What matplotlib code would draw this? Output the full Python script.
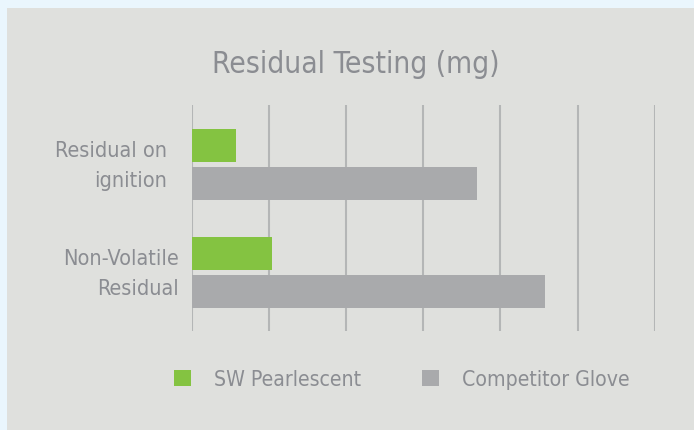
import matplotlib
matplotlib.use('Agg')
import numpy as np
import matplotlib.pyplot as plt
from matplotlib import font_manager
from matplotlib.patches import Rectangle

# Data
categories = ['Residual on\nignition', 'Non-Volatile\nResidual']
sw_pearlescent = [0.57, 1.04]
competitor_glove = [3.69, 4.58]
series_names = ['SW Pearlescent', 'Competitor Glove']

GREEN = '#84c341'
GREY = '#a9aaac'
TEXT = '#8b8d92'
GRID = '#b4b6b6'
PANEL = '#dfe0dd'
OUTER = '#eaf6fd'

# the reference uses a condensed face; DejaVu Sans Condensed is the closest one here
narrow = [f for f in font_manager.fontManager.ttflist
          if ('condensed' in str(f.stretch).lower() or 'condensed' in f.name.lower()
              or 'condensed' in f.fname.lower())
          and f.weight in (400, 'normal', 'regular') and f.style == 'normal'
          and 'mono' not in f.name.lower() and 'serif' not in f.name.lower().replace('sans', '')]
if narrow:
    fp = font_manager.FontProperties(fname=narrow[0].fname)
else:
    fp = font_manager.FontProperties(family='DejaVu Sans')

W, H = 694, 431
fig = plt.figure(figsize=(W / 100, H / 100), dpi=100)
fig.patch.set_facecolor(OUTER)
fig.patches.append(Rectangle((7 / W, 0), 1 - 7 / W, 1 - 9 / H, transform=fig.transFigure,
                             facecolor=PANEL, edgecolor='none', zorder=-10))

ax = fig.add_axes([192 / W, 1 - 332 / H, 462.7 / W, 226 / H])
ax.set_facecolor('none')

y = np.arange(len(categories))
h = 0.306
off = 0.176
ax.barh(y - off, sw_pearlescent, height=h, color=GREEN, label=series_names[0], zorder=3)
ax.barh(y + off, competitor_glove, height=h, color=GREY, label=series_names[1], zorder=3)

ax.set_xlim(0, 6)
ax.set_ylim(1.545, -0.551)
ax.set_xticks(np.arange(0, 7, 1))
ax.xaxis.grid(True, color=GRID, linewidth=1.5)
ax.tick_params(axis='both', length=0, labelbottom=False, labelleft=False)
for s in ax.spines.values():
    s.set_visible(False)

# category labels (right aligned, different paddings as in the reference)
pads = [25, 13]
for yi, lab, p in zip(y, categories, pads):
    ax.annotate(lab, xy=(0, yi), xycoords=('axes fraction', 'data'),
                xytext=(-p, -1), textcoords='offset pixels',
                ha='right', va='center', fontproperties=fp, fontsize=15.5,
                color=TEXT, linespacing=1.62)

fig.text(356 / W, 1 - 65 / H, 'Residual Testing (mg)', ha='center', va='center',
         fontproperties=fp, fontsize=21.5, color=TEXT)

fp_leg = fp.copy()
fp_leg.set_size(15.2)
leg = fig.legend(loc='center', bbox_to_anchor=(402 / W, 1 - 380 / H), ncol=2,
                 frameon=False, prop=fp_leg, labelcolor=TEXT,
                 handlelength=0.8, handleheight=0.8, handletextpad=1.1, columnspacing=2.9)

fig.savefig('out.png', dpi=100, facecolor=fig.get_facecolor())
